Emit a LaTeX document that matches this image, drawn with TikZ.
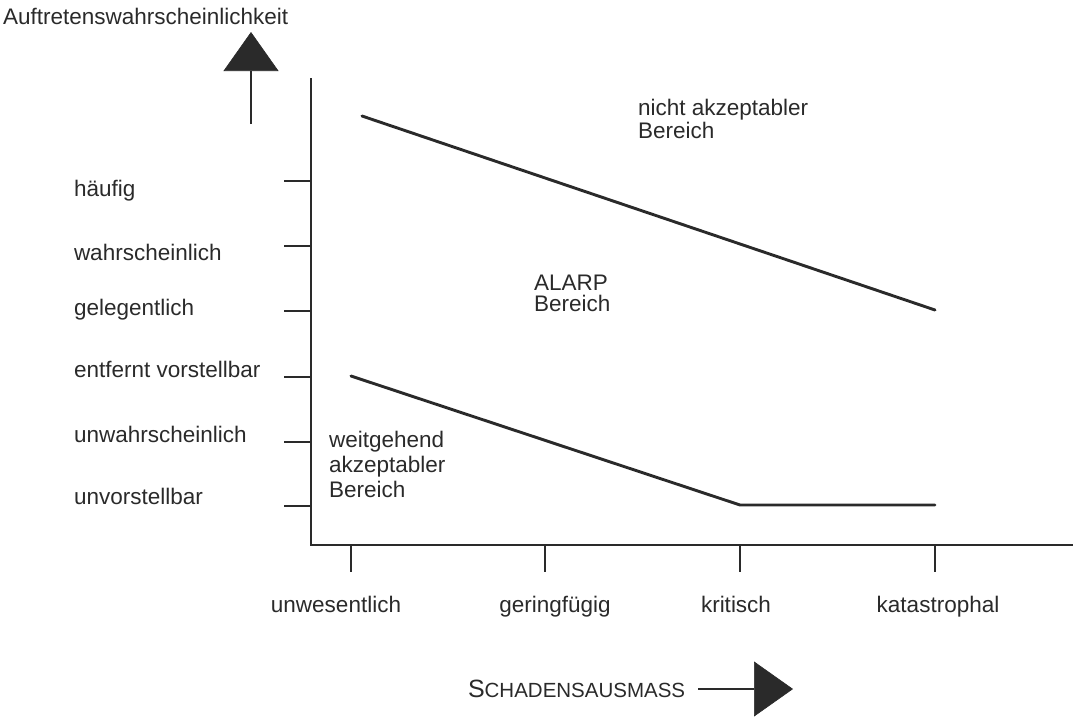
\documentclass[tikz,border=0pt]{standalone}
\usepackage{fontspec}
\setmainfont{Liberation Sans}
\usetikzlibrary{arrows.meta}
\definecolor{ink}{HTML}{2A2A2A}
\begin{document}
\begin{tikzpicture}[x=1pt,y=-1pt,
  every node/.style={text=ink, font=\fontsize{22.5}{26}\selectfont, inner sep=0pt, outer sep=0pt},
  lab/.style={anchor=base west},
  clab/.style={anchor=base},
  axis/.style={draw=ink, line width=2.5pt},
  tickmark/.style={draw=ink, line width=2.2pt},
  riskline/.style={draw=ink, line width=2.9pt, line join=round, line cap=round},
  bigarrow/.style={draw=ink, line width=2.6pt,
    -{Triangle[length=39pt,width=55pt,line width=0.6pt]}}
]
% page frame
\useasboundingbox (0,0) rectangle (1083,718);

% axes
\coordinate (O) at (311,545);
\coordinate (ytop) at (311,78);
\coordinate (xend) at (1073,545);
\draw[axis] (ytop) -- (O) -- (xend);

% probability classes on the vertical axis
\foreach \y/\name/\txt/\base in {
    181/p6/häufig/196,
    246/p5/wahrscheinlich/260,
    311/p4/gelegentlich/315,
    377/p3/entfernt vorstellbar/377,
    442/p2/unwahrscheinlich/442,
    506/p1/unvorstellbar/504} {
  \coordinate (\name) at (311,\y);
  \draw[tickmark] (\name) -- ++(-27,0);
  \node[lab] (\name-lab) at (74,\base) {\txt};
}

% severity classes on the horizontal axis
\foreach \x/\name/\txt/\cx in {
    351/s1/unwesentlich/336,
    545/s2/geringfügig/555,
    740/s3/kritisch/736,
    935/s4/katastrophal/938} {
  \coordinate (\name) at (\x,545);
  \draw[tickmark] (\name) -- ++(0,27);
  \node[clab] (\name-lab) at (\cx,612) {\txt};
}

% upper limit: not acceptable above
\coordinate (u1) at (362,116);
\coordinate (u2) at (935,310);
\draw[riskline] (u1) -- (u2);

% lower limit: broadly acceptable below
\coordinate (l1) at (351,376);
\coordinate (l2) at (740,505);
\coordinate (l3) at (935,505);
\draw[riskline] (l1) -- (l2) -- (l3);

% region labels
\node[lab] (r1a) at (638,115) {nicht akzeptabler};
\node[lab] (r1b) at (638,138) {Bereich};
\node[lab] (r2a) at (534,290) {ALARP};
\node[lab] (r2b) at (534,311) {Bereich};
\node[lab] (r3a) at (329,447) {weitgehend};
\node[lab] (r3b) at (329,472) {akzeptabler};
\node[lab] (r3c) at (329,497) {Bereich};

% axis titles with their arrows
\node[lab] (ytitle) at (3,24) {Auftretenswahrscheinlichkeit};
\coordinate (ya0) at (251,124);
\coordinate (ya1) at (251,32);
\draw[bigarrow] (ya0) -- (ya1);

\node[lab] (xtitle) at (468,697) {{\fontsize{25}{28}\selectfont S}{\fontsize{20.5}{24}\selectfont CHADENSAUSMASS}};
\coordinate (xa0) at (698,689);
\coordinate (xa1) at (793,689);
\draw[bigarrow] (xa0) -- (xa1);
\end{tikzpicture}
\end{document}
